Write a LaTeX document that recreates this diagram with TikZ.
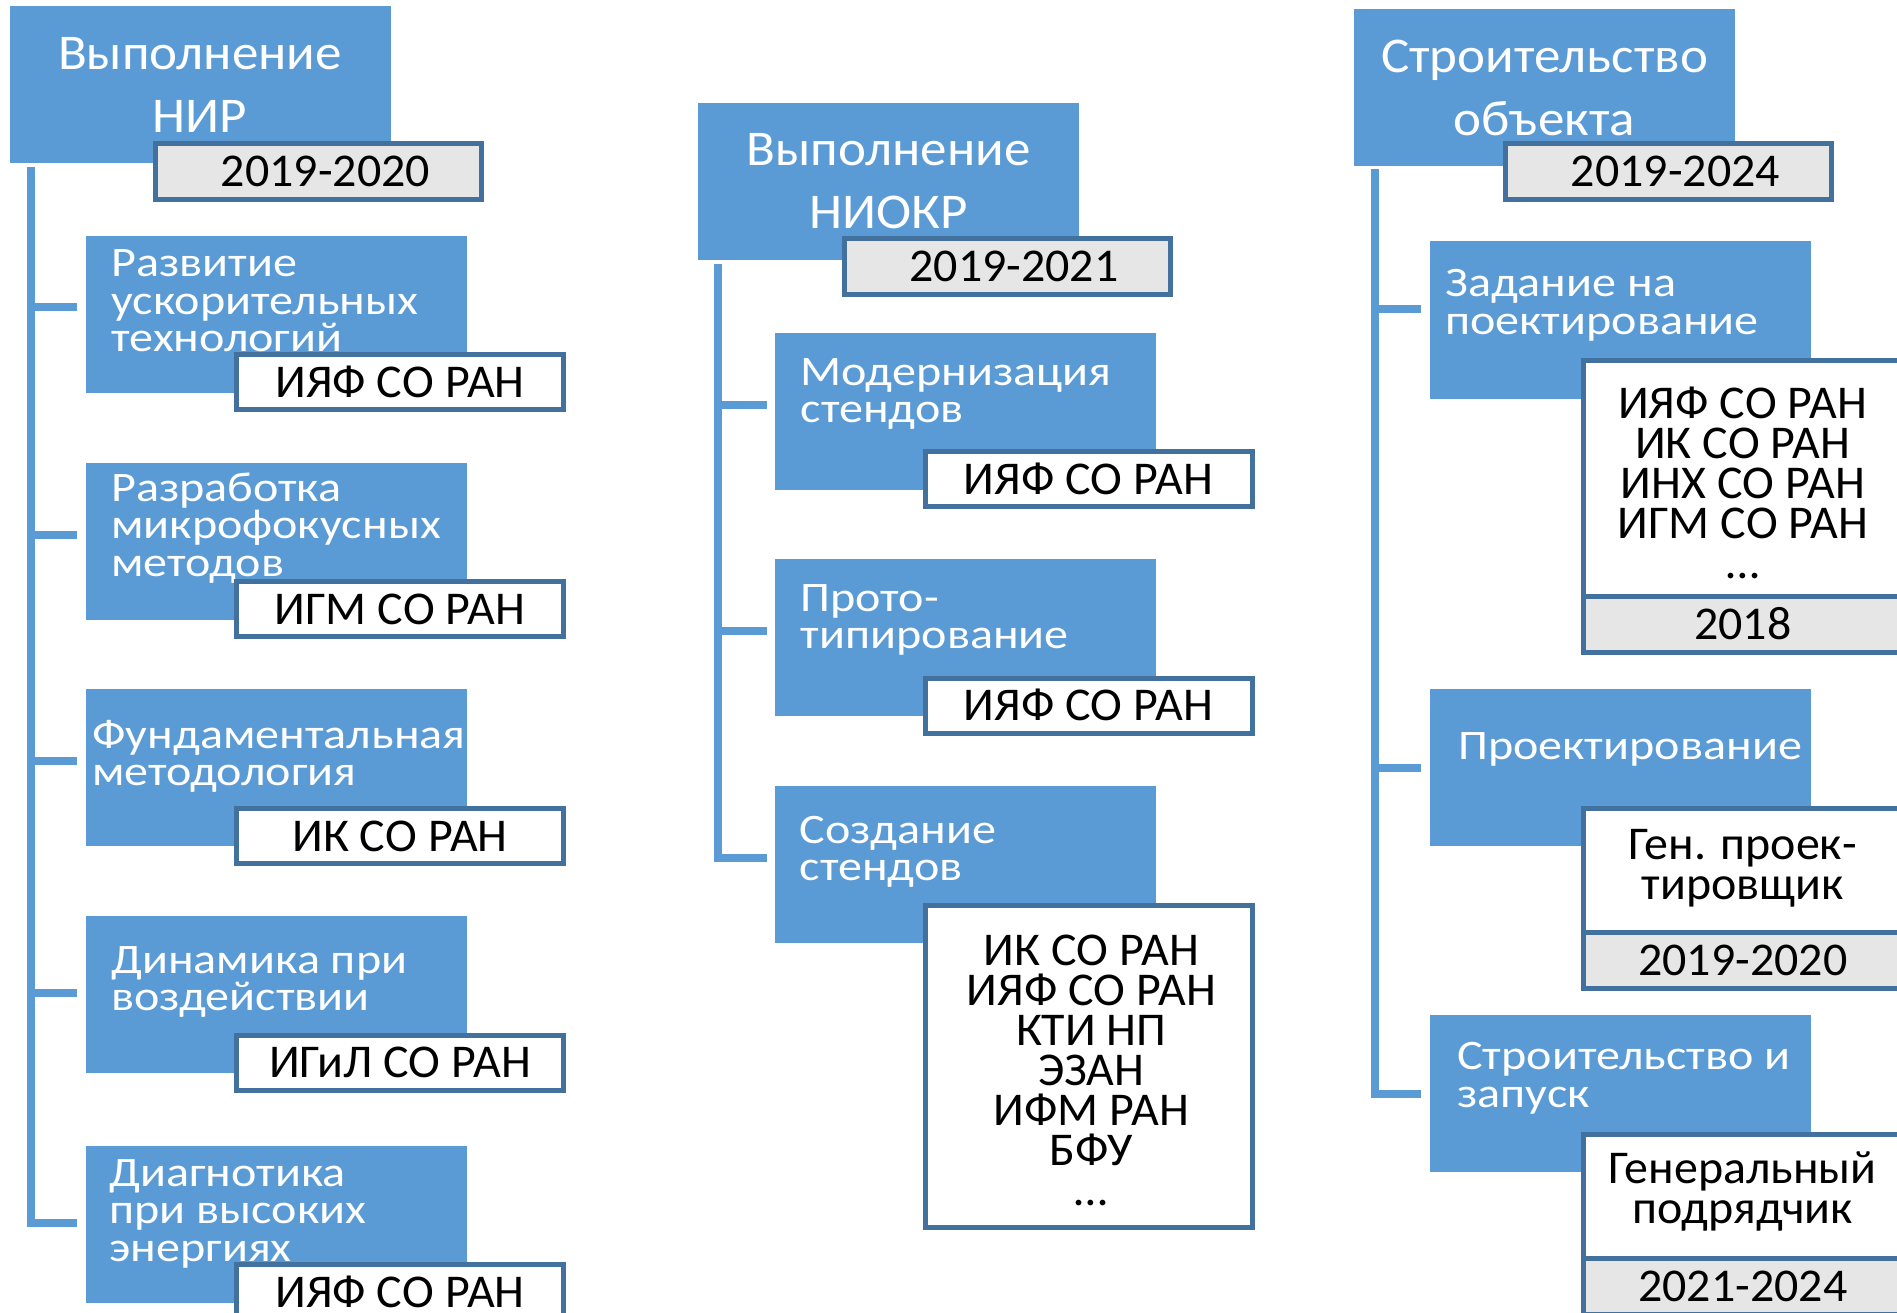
\documentclass[tikz,border=0pt]{standalone}
\usepackage{fontspec}
\setmainfont{Carlito}
\newfontfamily\headfam[FakeStretch=1.06]{Carlito}
\newfontfamily\taskfam[FakeStretch=1.145]{Carlito}
\newfontfamily\orgfam[FakeStretch=1.02]{Carlito}
\usetikzlibrary{positioning}
\definecolor{boxblue}{HTML}{5B9BD5}
\definecolor{edgeblue}{HTML}{41719C}
\definecolor{yeargrey}{HTML}{E7E6E6}
\lineskiplimit=-100pt
\newcommand\headfont{\headfam\fontsize{50}{63}\selectfont}
\newcommand\taskfont{\taskfam\fontsize{42}{37.5}\selectfont}
\newcommand\orgfont{\orgfam\fontsize{47}{40}\selectfont}
\tikzset{
  head/.style={fill=boxblue, text=white, font=\headfont, align=flush center, text width=370pt,
    inner sep=0pt, outer sep=0pt, minimum width=381pt, minimum height=157pt},
  yearbox/.style={fill=yeargrey, draw=edgeblue, line width=5pt, font=\orgfont,
    text height=30pt, text depth=0pt, inner sep=0pt, outer sep=0pt,
    minimum width=326pt, minimum height=56pt},
  task/.style={fill=boxblue, inner sep=0pt, outer sep=0pt, minimum width=381pt, minimum height=157pt},
  tasktext/.style={text=white, font=\taskfont, align=flush left, text width=375pt, inner sep=0pt, anchor=base west},
  org/.style={fill=white, draw=edgeblue, line width=5pt, font=\orgfont,
    text height=30pt, text depth=0pt, inner sep=0pt, outer sep=0pt,
    minimum width=327pt, minimum height=55pt},
  orglist/.style={font=\orgfont, align=flush center, text width=310pt, inner sep=0pt, anchor=base},
  spine/.style={draw=boxblue, line width=8pt}
}
\begin{document}
\begin{tikzpicture}[x=1pt,y=-1pt]
  \clip (0,0) rectangle (1897,1313);
  \fill[white] (0,0) rectangle (1897,1313);

  \node[head] (nir) at (200,85) {Выполнение\\НИР};
  \node[yearbox] (nirY) at (318.5,171.5) {\hspace*{14pt}2019-2020};
  \node[task] (c11) at (276.5,314.5) {};
  \node[tasktext] (t11) at ([xshift=25pt,yshift=-41pt]c11.north west) {Развитие\\ускорительных\\технологий};
  \node[org] (o11) at (400,382) {ИЯФ СО РАН};
  \node[task] (c12) at (276.5,541.8) {};
  \node[tasktext] (t12) at ([xshift=25pt,yshift=-38pt]c12.north west) {Разработка\\микрофокусных\\методов};
  \node[org] (o12) at (400,609) {ИГМ СО РАН};
  \node[task] (c13) at (276.5,767.8) {};
  \node[tasktext] (t13) at ([xshift=6pt,yshift=-59pt]c13.north west) {Фундаментальная\\методология};
  \node[org] (o13) at (400,836) {ИК СО РАН};
  \node[task] (c14) at (276.5,994.5) {};
  \node[tasktext] (t14) at ([xshift=25pt,yshift=-57pt]c14.north west) {Динамика при\\воздействии};
  \node[org] (o14) at (400,1062.5) {ИГиЛ СО РАН};
  \node[task] (c15) at (276.5,1224.5) {};
  \node[tasktext] (t15) at ([xshift=23pt,yshift=-40pt]c15.north west) {Диагнотика\\при высоких\\энергиях};
  \node[org] (o15) at (400,1292) {ИЯФ СО РАН};
  \coordinate (s1) at (31,167);
  \draw[spine] (s1) |- ([xshift=-9pt,yshift=2pt]c15.west);
  \draw[spine] ([yshift=7pt]s1 |- c11.west) -- ([xshift=-9pt,yshift=7pt]c11.west);
  \draw[spine] ([yshift=7pt]s1 |- c12.west) -- ([xshift=-9pt,yshift=7pt]c12.west);
  \draw[spine] ([yshift=7pt]s1 |- c13.west) -- ([xshift=-9pt,yshift=7pt]c13.west);
  \draw[spine] ([yshift=2pt]s1 |- c14.west) -- ([xshift=-9pt,yshift=2pt]c14.west);

  \node[head] (niokr) at (888.5,181.5) {Выполнение\\НИОКР};
  \node[yearbox] (niokrY) at (1007,266.5) {\hspace*{14pt}2019-2021};
  \node[task] (c21) at (965,411.5) {};
  \node[tasktext] (t21) at ([xshift=26pt,yshift=-52pt]c21.north west) {Модернизация\\стендов};
  \node[org] (o21) at (1088.5,479) {ИЯФ СО РАН};
  \node[task] (c22) at (965,637.8) {};
  \node[tasktext] (t22) at ([xshift=26pt,yshift=-52pt]c22.north west) {Прото-\\типирование};
  \node[org] (o22) at (1088.5,705.5) {ИЯФ СО РАН};
  \node[task] (c23) at (965,864.5) {};
  \node[tasktext] (t23) at ([xshift=25pt,yshift=-57pt]c23.north west) {Создание\\стендов};
  \node[org, minimum height=322pt] (o23) at (1088.5,1066.5) {};
  \node[orglist] (l23) at ([xshift=3pt,yshift=-59.5pt]o23.north) {ИК СО РАН\\ИЯФ СО РАН\\КТИ НП\\ЭЗАН\\ИФМ РАН\\БФУ\\…};
  \coordinate (s2) at (718,264);
  \draw[spine] (s2) |- ([xshift=-8pt,yshift=7pt]c23.west);
  \draw[spine] ([yshift=7pt]s2 |- c21.west) -- ([xshift=-8pt,yshift=7pt]c21.west);
  \draw[spine] ([yshift=7pt]s2 |- c22.west) -- ([xshift=-8pt,yshift=7pt]c22.west);

  \node[head] (build) at (1544.5,88) {Строительство\\объекта};
  \node[yearbox] (buildY) at (1668.5,171.5) {\hspace*{14pt}2019-2024};
  \node[task] (c31) at (1620.5,320) {};
  \node[tasktext] (t31) at ([xshift=15pt,yshift=-55.5pt]c31.north west) {Задание на\\поектирование};
  \node[org, minimum width=319.5pt, minimum height=235.5pt] (o31) at (1742.75,478.25) {};
  \node[orglist] (l31) at ([yshift=-57.5pt]o31.north) {ИЯФ СО РАН\\ИК СО РАН\\ИНХ СО РАН\\ИГМ СО РАН\\…};
  \node[yearbox, minimum width=319.5pt, minimum height=56.5pt, below=0pt of o31] (p31) {2018};
  \node[task] (c32) at (1620.5,767.5) {};
  \node[tasktext] (t32) at ([xshift=28pt,yshift=-70pt]c32.north west) {Проектирование};
  \node[org, minimum width=319.5pt, minimum height=123.5pt] (o32) at (1742.75,870.25) {};
  \node[orglist] (l32) at ([yshift=-50.5pt]o32.north) {Ген. проек-\\тировщик};
  \node[yearbox, minimum width=319.5pt, minimum height=56.5pt, below=0pt of o32] (p32) {2019-2020};
  \node[task] (c33) at (1620.5,1093.5) {};
  \node[tasktext] (t33) at ([xshift=27pt,yshift=-54.6pt]c33.north west) {Строительство и\\запуск};
  \node[org, minimum width=319.5pt, minimum height=123.5pt] (o33) at (1742.75,1196.25) {};
  \node[orglist] (l33) at ([yshift=-48.5pt]o33.north) {Генеральный\\подрядчик};
  \node[yearbox, minimum width=319.5pt, minimum height=56.5pt, below=0pt of o33] (p33) {2021-2024};
  \coordinate (s3) at (1374.5,169);
  \draw[spine] (s3) |- ([xshift=-9pt]c33.west);
  \draw[spine] ([yshift=11pt]s3 |- c31.west) -- ([xshift=-9pt,yshift=11pt]c31.west);
  \draw[spine] (s3 |- c32.west) -- ([xshift=-9pt]c32.west);
\end{tikzpicture}
\end{document}
